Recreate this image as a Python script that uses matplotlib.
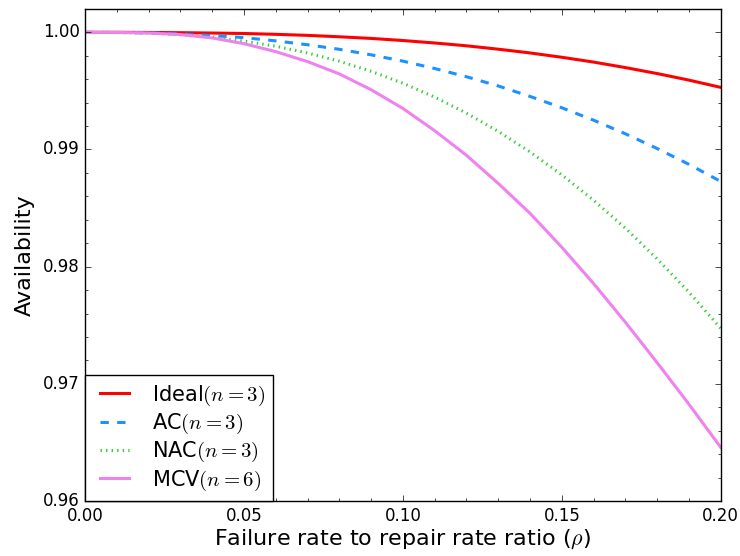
import matplotlib
matplotlib.use('Agg')
import matplotlib.pyplot as plt
from matplotlib.ticker import MultipleLocator, FormatStrFormatter

# failure-to-repair ratio and availability
rho = [0.00, 0.01, 0.02, 0.03, 0.04, 0.05, 0.06, 0.07, 0.08, 0.09, 0.10,
       0.11, 0.12, 0.13, 0.14, 0.15, 0.16, 0.17, 0.18, 0.19, 0.20]

ideal = [1.00000, 1.00000, 0.99999, 0.99997, 0.99994, 0.99990, 0.99983,
         0.99974, 0.99962, 0.99948, 0.99930, 0.99909, 0.99885, 0.99856,
         0.99824, 0.99787, 0.99746, 0.99699, 0.99648, 0.99592, 0.99530]

ac = [1.00000, 0.99999, 0.99995, 0.99986, 0.99972, 0.99955, 0.99927,
      0.99894, 0.99855, 0.99808, 0.99754, 0.99691, 0.99621, 0.99542,
      0.99453, 0.99356, 0.99250, 0.99134, 0.99008, 0.98873, 0.98727]

nac = [1.00000, 0.99999, 0.99993, 0.99980, 0.99958, 0.99925, 0.99881,
       0.99824, 0.99753, 0.99667, 0.99566, 0.99447, 0.99310, 0.99154,
       0.98979, 0.98783, 0.98566, 0.98328, 0.98066, 0.97782, 0.97473]

mcv = [1.00000, 0.99999, 0.99994, 0.99981, 0.99952, 0.99903, 0.99835,
       0.99750, 0.99645, 0.99510, 0.99350, 0.99160, 0.98950, 0.98710,
       0.98455, 0.98165, 0.97855, 0.97525, 0.97180, 0.96825, 0.96457]

labels = [r'Ideal$(n=3)$', r'AC$(n=3)$', r'NAC$(n=3)$', r'MCV$(n=6)$']

plt.style.use('classic')
plt.rcParams['mathtext.fontset'] = 'cm'

fig = plt.figure(figsize=(7.4, 5.56), dpi=100, facecolor='white')
ax = fig.add_axes([0.115, 0.099, 0.859, 0.885])

ax.plot(rho, ideal, color='red', lw=2.2, ls='-', label=labels[0])
ax.plot(rho, ac, color='dodgerblue', lw=2.2, ls='--', label=labels[1])
ax.plot(rho, nac, color='limegreen', lw=2.2, ls=':', label=labels[2])
ax.plot(rho, mcv, color='violet', lw=2.2, ls='-', label=labels[3])

ax.set_xlim(0, 0.2)
ax.set_ylim(0.96, 1.002)
ax.xaxis.set_major_locator(MultipleLocator(0.05))
ax.xaxis.set_minor_locator(MultipleLocator(0.01))
ax.yaxis.set_major_locator(MultipleLocator(0.01))
ax.yaxis.set_minor_locator(MultipleLocator(0.002))
ax.xaxis.set_major_formatter(FormatStrFormatter('%.2f'))
ax.yaxis.set_major_formatter(FormatStrFormatter('%.2f'))
ax.tick_params(labelsize=12)

ax.set_xlabel(r'Failure rate to repair rate ratio ($\rho$)', fontsize=16, labelpad=2)
ax.set_ylabel('Availability', fontsize=16, labelpad=6)

leg = ax.legend(loc='lower left', fontsize=15, borderaxespad=0.0,
                labelspacing=0.2, handlelength=2.0, handletextpad=0.8)
leg.get_frame().set_linewidth(1.0)

fig.savefig('out.png', dpi=100, facecolor='white')
